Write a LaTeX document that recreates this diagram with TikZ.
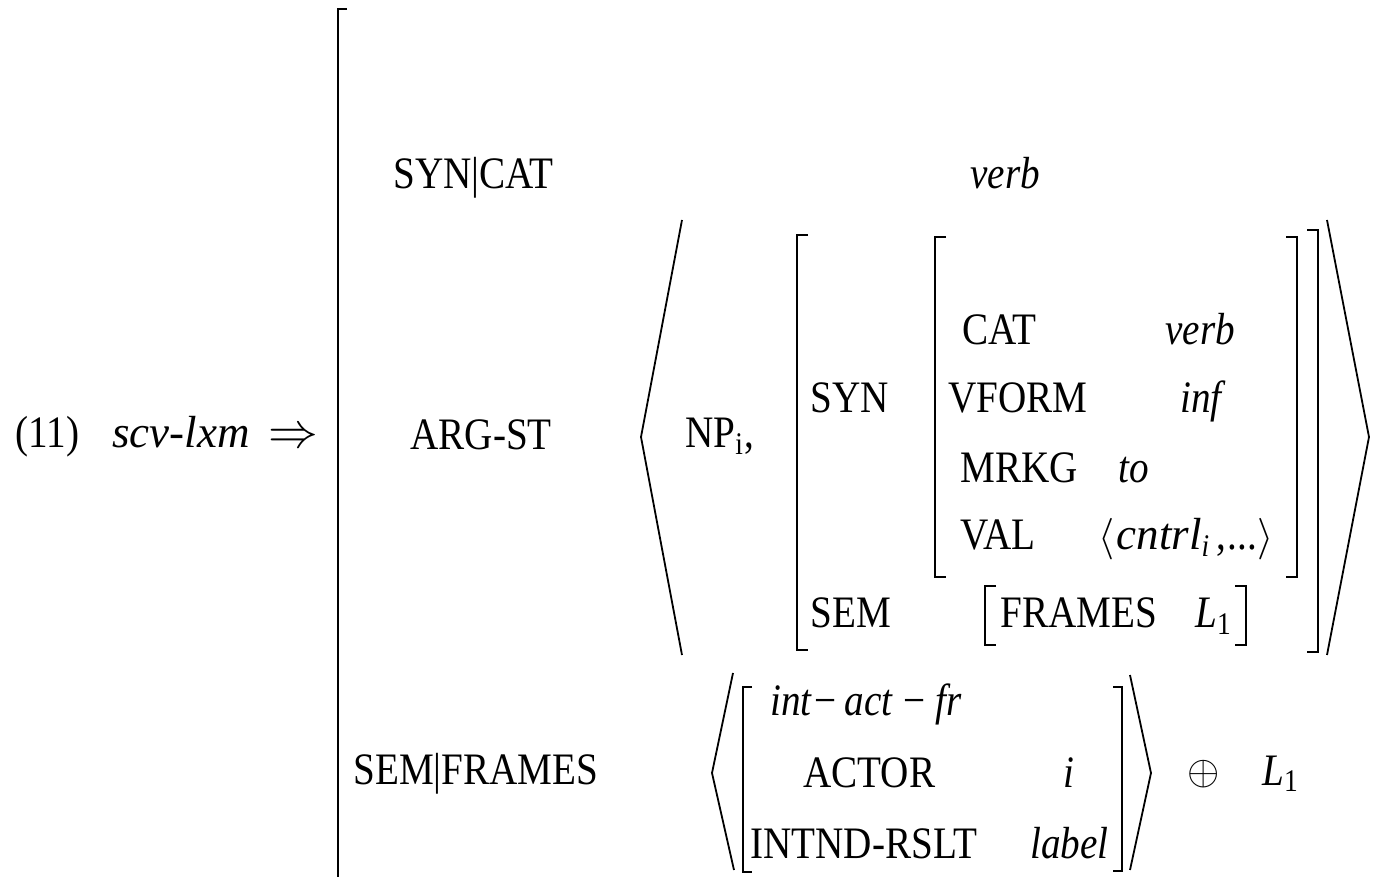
\documentclass[tikz,border=0pt]{standalone}
\usepackage{fontspec}
\setmainfont{Liberation Serif}[FakeStretch=0.87]
\newfontfamily\widefont{Liberation Serif}
\usetikzlibrary{positioning}

\tikzset{
  lbl/.style={anchor=base west, inner sep=0pt, font=\fontsize{22.5}{27}\selectfont},
  brk/.style={line width=1.4pt},
  ang/.style={line width=0.9pt}
}

\begin{document}
\begin{tikzpicture}[x=0.5pt,y=-0.5pt]
  \useasboundingbox (0,0) rectangle (1373,877);
  % head of the rule
  \node[lbl] (num) at (15,448) {(11)};
  \node[lbl] (lxm) at (112,448) {\widefont\itshape scv-lxm};
  \node[lbl, font=\fontsize{24.88}{28}\selectfont] (impl) at (268,448) {$\Rightarrow$};
  % outer bracket
  \draw[brk] (347,9) -- (338,9) -- (338,877);
  % SYN|CAT
  \node[lbl] (syncat) at (393,189) {SYN|CAT};
  \node[lbl] (verbA) at (970,189) {\textit{verb}};
  % ARG-ST list
  \node[lbl] (argst) at (410,450) {ARG-ST};
  \draw[ang] (682,220) -- (641,437) -- (682,655);
  \node[lbl] (np) at (685,448) {NP\textsubscript{i},};
  \draw[brk] (808,235) -- (797,235) -- (797,650) -- (808,650);
  \node[lbl] (syn) at (810,413) {SYN};
  \node[lbl] (sem) at (810,628) {SEM};
  \draw[brk] (946,237) -- (935,237) -- (935,577) -- (946,577);
  \node[lbl] (cat) at (962,345) {CAT};
  \node[lbl] (verbB) at (1165,345) {\textit{verb}};
  \node[lbl] (vform) at (948,413) {VFORM};
  \node[lbl] (inf) at (1180,413) {\textit{inf}};
  \node[lbl] (mrkg) at (960,483) {MRKG};
  \node[lbl] (to) at (1118,483) {\textit{to}};
  \node[lbl] (val) at (960,550) {VAL};
  \node[lbl] (cntrl) at (1098,550) {$\Bigl\langle$\kern1pt{\widefont\itshape cntrl}\textsubscript{\textit{i}}\kern3pt,\kern1pt...$\Bigr\rangle$};
  \draw[brk] (1286,237) -- (1297,237) -- (1297,577) -- (1286,577);
  \draw[brk] (996,586) -- (985,586) -- (985,645) -- (996,645);
  \node[lbl] (frames) at (1000,628) {FRAMES};
  \node[lbl] (lone) at (1195,628) {\textit{L}\textsubscript{1}};
  \draw[brk] (1235,586) -- (1246,586) -- (1246,645) -- (1235,645);
  \draw[brk] (1307,230) -- (1318,230) -- (1318,652) -- (1307,652);
  \draw[ang] (1327,220) -- (1369,437) -- (1327,655);
  % SEM|FRAMES
  \node[lbl] (semfr) at (353,784) {SEM|FRAMES};
  \draw[ang] (733,673) -- (712,773) -- (734,870);
  \draw[brk] (752,687) -- (743,687) -- (743,872) -- (752,872);
  \node[lbl] (frtype) at (770,715) {\textit{int}\kern1pt−\kern4pt\textit{act}\kern5pt−\kern5pt\textit{fr}};
  \node[lbl] (actor) at (803,787) {ACTOR};
  \node[lbl] (ival) at (1063,787) {\textit{i}};
  \node[lbl] (rslt) at (750,858) {INTND-RSLT};
  \node[lbl] (label) at (1030,858) {\textit{label}};
  \draw[brk] (1113,687) -- (1122,687) -- (1122,871) -- (1113,871);
  \draw[ang] (1130,675) -- (1151,773) -- (1130,870);
  \node[lbl] (oplus) at (1187,784) {$\oplus$};
  \node[lbl] (ltwo) at (1262,785) {\textit{L}\textsubscript{1}};
\end{tikzpicture}
\end{document}
